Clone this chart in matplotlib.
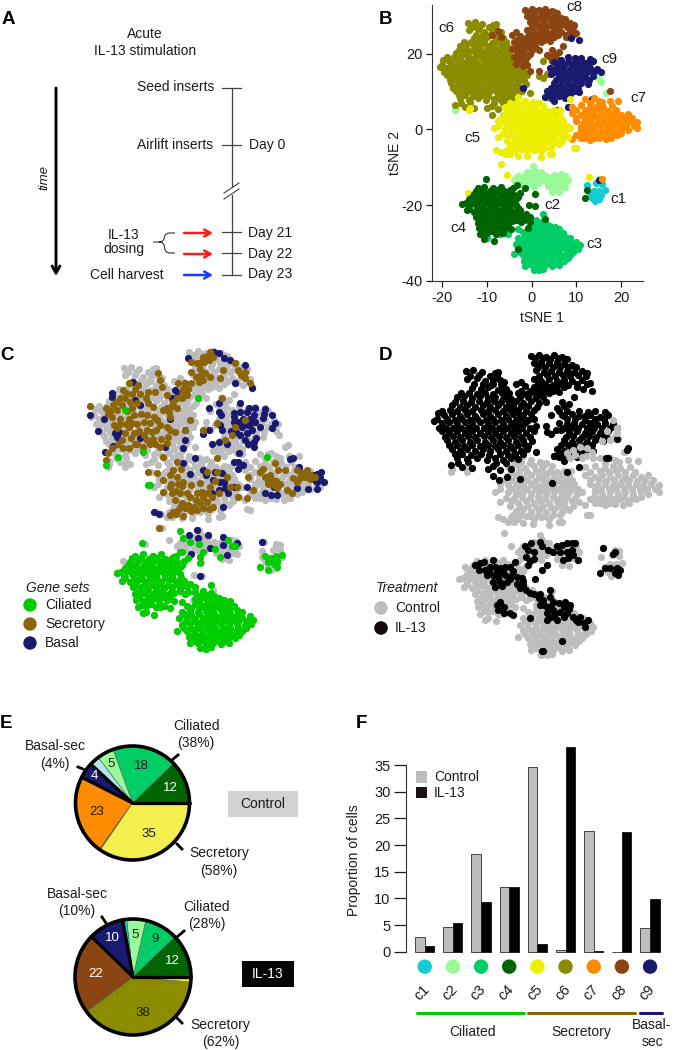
import matplotlib
matplotlib.use("Agg")
import matplotlib.pyplot as plt
from matplotlib.patches import Rectangle, Circle, PathPatch
from matplotlib.path import Path
import numpy as np

plt.rcParams['font.family'] = ['Liberation Sans', 'DejaVu Sans']
plt.rcParams['axes.unicode_minus'] = False
W, H = 674, 1050
INK = '#1c1c1c'

# tSNE coordinates
c1 = [(12.3,-14.6),(14.4,-14.2),(15.8,-14.4),(13,-16.9),(14,-16.3),(15.1,-16.2),(16.3,-15.9),(13.5,-18),(14.5,-17.9),(15.5,-17.4),(14.1,-19),(15,-18.5),(14.8,-17),(13.9,-17.4)]
c2 = [(0.2,-9.6),(-1,-11.2),(0.6,-10.8),(2,-11.3),(-3,-12.2),(-1.6,-12),(0,-12.3),(1.5,-11.9),(3.2,-12.4),(5,-12),(6.5,-11.9),(7.4,-12.3),
      (-4,-13.4),(-2.6,-13.7),(-1,-13.3),(0.5,-13.7),(2,-13.4),(3.5,-13.8),(5,-13.3),(6.5,-13.7),(8,-13.4),(-1.5,-15),(0.5,-15.2),(3.6,-15),(5,-15.2),(6.5,-14.9),(7.5,-15.3),(4.6,-16.4),(6,-16.6),
      (-17,5.6),(-17.2,5),(15,13.2),(15.6,12.4),(16.7,9.6),(15,-13),
      (-3.4,-12.8),(-2,-12.9),(-0.4,-12.7),(1,-12.8),(2.6,-12.9),(4.2,-12.7),(5.8,-12.8),(7,-12.9),(-2.2,-14.3),(-0.6,-14.4),(1.4,-14.2),(4.2,-14.3),(5.8,-14.4),(7,-14.2),(-0.2,-11.5),(1.2,-11.4)]
c3 = [(2.6,-22.4),(-0.6,-24),(1,-23.8),(2.6,-24.3),(-0.5,-25.6),(1.1,-25.3),(2.4,-25.8),(4,-25.4),(5.1,-25.8),(6.2,-26.2),
      (-2,-27.2),(-0.6,-26.8),(1,-27.3),(2.5,-26.9),(4,-27.2),(5.5,-26.9),(7,-27.4),(-3,-28.6),(-1.5,-28.2),(0,-28.7),(1.5,-28.4),(3,-28.8),(4.5,-28.3),(6,-28.7),(7.5,-28.3),(8.6,-28.7),
      (-3.6,-30.2),(-2,-29.8),(-0.5,-30.3),(1,-30),(2.5,-30.4),(4,-29.9),(5.5,-30.3),(7,-29.8),(8.6,-30.2),(10,-29.7),(10.7,-30.6),(-3,-31.6),(-1.5,-31.3),(0,-31.8),(1.5,-31.4),(3,-31.9),(4.5,-31.4),(6,-31.8),(7.5,-31.4),(9,-31.8),(10.3,-31.5),
      (-4,-33),(-2,-33.2),(-0.5,-32.9),(1,-33.4),(2.5,-33),(4,-33.4),(5.5,-33),(7,-33.4),(8.5,-33.1),(-1.7,-34.6),(0,-34.3),(1.5,-34.8),(3,-34.4),(4.5,-34.8),(6,-34.4),(7.2,-34.8),
      (-1.5,-36),(0,-35.8),(1.5,-36.2),(3,-35.8),(4.5,-36.1),(6,-35.9),(0.5,-37),(1.6,-37.2),(2.6,-36.9),(-3,-26.4),(-10,-28.6),(-7.2,-27.6),(-5.4,-27.7),
      (0.2,-25),(1.8,-24.8),(3.2,-25),(0.3,-26.2),(1.8,-26.3),(3.3,-26.1),(4.6,-26.3),(-1.2,-27.8),(0.2,-27.7),(1.8,-27.9),(3.2,-27.7),(4.8,-27.9),(6.2,-27.8),(-2.6,-29.2),(-1.2,-29.3),(0.2,-29.1),(1.8,-29.3),(3.2,-29.1),(4.8,-29.3),(6.2,-29.2),(7.8,-29.1),
      (-2.2,-30.8),(-0.8,-30.9),(0.8,-30.7),(2,-30.9),(3.4,-30.7),(4.8,-30.9),(6.4,-30.7),(7.8,-30.8),(9.4,-30.9),(-2.6,-32.4),(-1.2,-32.3),(0.4,-32.5),(1.8,-32.3),(3.4,-32.5),(4.8,-32.3),(6.2,-32.5),(7.8,-32.3),(9.2,-32.4),
      (-1,-34),(0.8,-33.9),(2.2,-34.1),(3.8,-33.9),(5.2,-34.1),(6.6,-33.9),(8,-34),(-0.8,-35.4),(0.8,-35.3),(2.2,-35.5),(3.8,-35.3),(5.2,-35.4)]
c4 = [(-12,-15.6),(-10.6,-15.2),(-8.6,-15.6),(-7,-15.2),(-4.1,-15.6),(-3.4,-14.8),(-13,-17),(-11.5,-16.9),(-10,-17.2),(-8.5,-16.8),(-7,-17.2),(-5.5,-16.9),(-4,-17.2),(-2.6,-16.8),
      (-14,-18.5),(-12.5,-18.2),(-11,-18.7),(-9.5,-18.4),(-8,-18.7),(-6.5,-18.3),(-5,-18.7),(-3.5,-18.3),(-15.6,-19.7),(-14.1,-20.2),(-12.6,-19.8),(-11,-20.2),(-9.5,-19.8),(-8,-20.2),(-6.5,-19.8),(-5,-20.2),(-3.5,-19.9),
      (-14.6,-21.4),(-13,-21.7),(-11.5,-21.3),(-10,-21.7),(-8.5,-21.3),(-7,-21.7),(-5.5,-21.3),(-4,-21.7),(-2.6,-21.4),(-12.5,-23),(-11,-22.8),(-9.5,-23.2),(-8,-22.9),(-6.5,-23.2),(-5,-22.8),(-3.5,-23.1),(-2,-22.8),(-0.5,-23),
      (-12,-24.6),(-10.5,-24.2),(-9,-24.6),(-7.5,-24.3),(-6,-24.7),(-4.5,-24.3),(-2.5,-24.5),(-11.9,-26),(-10.4,-26.2),(-9,-25.8),(-7.5,-26.2),(-6,-25.9),(-4.6,-26.2),(-11.5,-27.6),(-10,-27.3),(-8,-27.6),(-6.5,-27.3),(-10.6,-29),(-8.4,-29.4),
      (-12.6,-16.2),(-11,-16.1),(-9.4,-16.3),(-7.8,-16.1),(-6.2,-16.3),(-4.8,-16.1),(-13.4,-17.8),(-11.8,-17.9),(-10.4,-17.7),(-8.8,-17.9),(-7.2,-17.8),(-5.8,-17.9),(-4.4,-17.7),(-3,-17.9),(-14.8,-19.4),(-13.2,-19.3),(-11.8,-19.5),(-10.2,-19.3),(-8.8,-19.4),(-7.2,-19.3),(-5.8,-19.5),(-4.2,-19.3),
      (-14,-20.9),(-12.2,-20.8),(-10.8,-21),(-9.2,-20.8),(-7.8,-21),(-6.2,-20.8),(-4.8,-21),(-3.2,-20.8),(-12,-22.4),(-10.2,-22.3),(-8.8,-22.5),(-7.2,-22.3),(-5.8,-22.5),(-4.2,-22.3),(-2.8,-22.5),(-1.4,-22.3),(-11.4,-24),(-9.8,-23.9),(-8.2,-24.1),(-6.8,-23.9),(-5.2,-24.1),(-3.5,-23.9),(-1.8,-24),(-11.2,-25.4),(-9.6,-25.3),(-8.2,-25.5),(-6.8,-25.3),(-5.4,-25.4),(-10.8,-27),(-9,-26.9),(-7.2,-27)]
c4_strays = [(-10.2,-13),(-1.6,-15.6),(0.7,-17),(-0.7,-20),(0.8,-20.3),(3,-23.7),(-0.5,-24.5),(-0.9,-26),(-3,-31.5),(12.4,-16),(12,-18.2)]
c5 = [(-3,8.6),(-1.6,7.6),(-6,6),(-4,6.4),(-2.6,5.8),(-1,6.3),(0.6,5.8),(2.6,6.2),(-6,4),(-4.5,4.3),(-3,3.8),(-1.5,4.2),(0,3.8),(1.5,4.3),(3,3.8),(4.5,4.2),(6,3.9),
      (-7.5,2.1),(-6,1.8),(-4.5,2.2),(-3,1.8),(-1.5,2.2),(0,1.7),(1.5,2.2),(3,1.8),(4.5,2.2),(6,1.8),(7,2.2),(-8.5,0.4),(-6,0.2),(-4.5,-0.2),(-3,0.2),(-1.5,-0.2),(0,0.2),(1.5,-0.2),(3,0.2),(4.5,-0.2),(6,0.2),(7.5,-0.2),(8.5,0.3),
      (-7.5,-2),(-5.5,-1.8),(-4,-2.2),(-2.5,-1.8),(-1,-2.2),(0.5,-1.8),(2,-2.2),(3.5,-1.8),(5,-2.2),(6.5,-1.8),(8,-2),(-4.5,-4),(-3,-3.7),(-1.5,-4.2),(0,-3.8),(1.5,-4.2),(3,-3.7),(4.5,-4.2),(6,-3.9),
      (-8,-5.4),(-7,-5.9),(-5.5,-5.5),(-4,-5.8),(-2.5,-5.3),(-1,-5.8),(0.5,-5.4),(2,-5.8),(-6,-6.6),(-4.9,-6.6),(-3,-6.9),(-1.1,-7),(2,-7.2),(4,-6.6),(4.6,-6.5),(9.4,-4.9),(10,-5),
      (-6.8,-9.2),(-5.5,-12),(-14,5),(-13.8,5.6),(8.5,8),(12.7,-12.5),(-14.4,-16.8),(6.4,5.2),
      (-4.8,7),(-3.4,7.2),(-1.8,6.9),(0.2,7.1),(1.5,6.9),(-5.4,5),(-3.8,5.1),(-2.2,4.9),(-0.6,5.1),(0.9,4.9),(2.3,5.1),(3.6,4.9),(5,5.1),(-6.8,3),(-5.2,3.1),(-3.6,2.9),(-2.2,3.1),(-0.7,2.9),(0.8,3.1),(2.2,2.9),(3.7,3.1),(5.2,2.9),(6.6,3.1),
      (-7.6,1),(-5.2,1.1),(-3.8,0.9),(-2.2,1.1),(-0.7,0.9),(0.8,1.1),(2.2,0.9),(3.8,1.1),(5.2,0.9),(6.6,1.1),(7.8,1),(-6.4,-1),(-4.8,-1.1),(-3.2,-0.9),(-1.8,-1.1),(-0.2,-0.9),(1.2,-1.1),(2.8,-0.9),(4.2,-1.1),(5.6,-0.9),(7.2,-1),
      (-5.6,-3),(-3.6,-3.1),(-2,-2.9),(-0.6,-3.1),(0.8,-2.9),(2.4,-3.1),(3.8,-2.9),(5.2,-3.1),(6.8,-3),(-5,-5),(-3.4,-4.9),(-1.8,-5.1),(-0.2,-4.9),(1.2,-5.1),(2.8,-4.9),(4.2,-5)]
c6 = [(-14.2,28),(-12.8,28.2),(-11.2,27.8),(-8.6,27.6),(-8,27.9),(-14,26.2),(-12,26.4),(-10.6,25.8),(-9,26.1),(-6.8,25.6),(-13,24.2),(-11.4,23.9),(-10,24.3),(-8,23.8),(-6.4,24),(-6,22.3),
      (-16,22),(-14.6,22.4),(-13,21.8),(-11.5,22.3),(-10,21.9),(-8.5,22.2),(-7,21.7),(-5.4,21.6),(-17,20.2),(-15.5,19.8),(-14,20.3),(-12.5,19.8),(-11,20.2),(-9.5,19.8),(-8,20.2),(-6.5,19.8),(-5,20),
      (-19.8,18.4),(-18.6,17.9),(-17,18.3),(-15.5,17.8),(-14,18.2),(-12.5,17.8),(-11,18.2),(-9.5,17.8),(-8,18.2),(-6.5,17.8),(-5,18.2),(-3.6,17.7),(-20.5,16.5),(-19,16.1),(-17.5,16.4),(-16,15.9),(-14.5,16.3),(-13,15.9),(-11.5,16.3),(-10,15.9),(-8.5,16.3),(-7,15.9),(-5.5,16.2),(-4,15.8),(-2.6,16.1),
      (-19,14.3),(-17.5,13.9),(-16,14.2),(-14.5,13.8),(-13,14.2),(-11.5,13.8),(-10,14.2),(-8.5,13.8),(-7,14.2),(-5.5,13.8),(-4,14.2),(-2.5,13.8),(-1,14.3),(-18,12.2),(-16.5,11.8),(-15,12.2),(-13.5,11.8),(-12,12.2),(-10.5,11.8),(-9,12.2),(-7.5,11.8),(-6,12.2),(-4.5,11.8),(-3,12.2),(-1.4,12),
      (-17,10.2),(-15.5,9.8),(-14,10.2),(-12.5,9.8),(-11,10.2),(-9.5,9.8),(-8,10.2),(-6.5,9.8),(-5,10.2),(-3.5,9.8),(-2.2,10.2),(-16,8.2),(-14,7.8),(-12,8.2),(-10.2,7.7),(-8.5,8),(-7,7.7),(-5.5,8.1),(-4,7.8),(-17.1,6.4),(-15,6),(-13,5.7),(-10,5.6),(-9,6.2),(-7.6,5.4),(-5.5,5.6),(-9,3.9),(-6.2,3.7),
      (2.4,18),(1.6,14),(2.4,13.6),(3.4,14.6),(-0.5,9.5),(3,8.6),(4,8.4),(4.6,14.8),
      (-13.4,27),(-11.8,27.1),(-9.6,26.9),(-8.2,27),(-12.6,25),(-11,25.1),(-9.4,24.9),(-7.4,25),(-15.2,23),(-13.6,23.1),(-12,22.9),(-10.6,23.1),(-9,22.9),(-7.2,23.1),(-5.8,23),(-16.4,21),(-14.8,21.1),(-13.2,20.9),(-11.8,21.1),(-10.2,20.9),(-8.8,21.1),(-7.4,20.9),(-5.8,21),
      (-19,19),(-17.4,19.1),(-16,18.9),(-14.4,19.1),(-13,18.9),(-11.4,19.1),(-10,18.9),(-8.6,19.1),(-7,18.9),(-5.6,19.1),(-4.2,19),(-20,17),(-18,17.1),(-16.4,16.9),(-15,17.1),(-13.4,16.9),(-12,17.1),(-10.4,16.9),(-9,17.1),(-7.4,16.9),(-6,17.1),(-4.4,16.9),(-3,17),
      (-19.6,15),(-18.2,15.1),(-16.8,14.9),(-15.2,15.1),(-13.8,14.9),(-12.2,15.1),(-10.8,14.9),(-9.2,15.1),(-7.8,14.9),(-6.2,15.1),(-4.8,14.9),(-3.2,15.1),(-1.8,15),(-18.4,13),(-16.8,13.1),(-15.4,12.9),(-13.8,13.1),(-12.4,12.9),(-10.8,13.1),(-9.4,12.9),(-7.8,13.1),(-6.4,12.9),(-4.8,13.1),(-3.4,12.9),(-1.8,13),
      (-17.6,11),(-16,11.1),(-14.6,10.9),(-13,11.1),(-11.6,10.9),(-10,11.1),(-8.6,10.9),(-7,11.1),(-5.6,10.9),(-4,11.1),(-2.6,11),(-16.4,9),(-15,9.1),(-13.2,8.9),(-11.4,9.1),(-9.8,8.9),(-7.6,9.1),(-6,8.9),(-4.6,9.1),(-3,9),(-15.8,7),(-13.8,7.1),(-8.4,6.9),(-6.4,7)]
c7 = [(12,8),(14,8.2),(15,7.6),(17.6,7.6),(19.4,7.5),(9,6),(11,6.3),(13,5.8),(14.5,6.2),(16,5.8),(18,6.1),(9,4.2),(11,3.8),(12.5,4.2),(14,3.8),(15.5,4.2),(17,3.8),(18.5,4.2),(20,3.8),(21.5,4.1),
      (10,2.2),(11.5,1.8),(13,2.2),(14.5,1.8),(16,2.2),(17.5,1.8),(19,2.2),(20.5,1.8),(22,2.2),(23.6,2),(11,0.2),(12.5,-0.2),(14,0.2),(15.5,-0.2),(17,0.2),(18.5,-0.2),(20,0.2),(21.5,-0.2),(23.6,0.4),
      (10,-1.4),(11.5,-1.7),(13,-1.4),(14.5,-1.7),(16,-1.3),(17.5,-1.7),(19,-1.4),(9,-2.6),(13,-2.7),(15,-2.4),(16.6,-2.6),(3,4.5),(1,6.6),(15.8,-13.2),
      (13,7),(15.8,7.1),(10,5),(12,5.1),(13.8,4.9),(15.2,5.1),(17,4.9),(18.8,5),(10,3),(11.8,3.1),(13.2,2.9),(14.8,3.1),(16.4,2.9),(17.8,3.1),(19.2,2.9),(20.8,3.1),(22.4,3),
      (11,1),(12.2,1.1),(13.8,0.9),(15.2,1.1),(16.8,0.9),(18.2,1.1),(19.8,0.9),(21.2,1.1),(22.8,1),(10.8,-0.9),(12.2,-1),(13.8,-0.8),(15.2,-1),(16.8,-0.8),(18.2,-1),(20,-0.9),(11,-2.2),(12,-2.3),(14,-2.2),(17.8,-2.3)]
c8 = [(-1.6,31.6),(0,31.8),(1.5,31.4),(3,31.8),(4.5,31.3),(5.6,30.8),(-1,30),(0.5,30.2),(2,29.8),(3.5,30.1),(5,29.7),(6.6,29.4),(-0.5,28.2),(1,27.8),(2.5,28.1),(4,27.8),(5.5,28.1),(7,27.8),(8.5,28.1),(9.5,27.6),
      (-1,26.2),(0.5,25.8),(2,26.2),(3.5,25.8),(5,26.1),(6.6,25.7),(8.5,25.9),(10,25.4),(-2.6,24.6),(-1,24.3),(0.5,24.7),(2,24.3),(3.6,24.6),(5,24.3),(-4,23),(-2.5,22.7),(-1,23.1),(0.5,22.8),(2,23),(4,23.2),(-4.5,21.2),(-3,20.8),(-1.5,21.2),(0,20.8),(1.5,21),(4.5,21),(6,20.5),
      (-4,19.2),(-2.5,18.8),(-1,19.2),(4,19),(5.5,18.9),(-3.5,17.2),(-2,16.8),(-1,17),(-0.5,15.5),(1.5,15.4),(-9,25),(-7.6,26),(-7,24.4),(-4.5,25),(-3.5,25.6),(7,22),(7.6,24.4),(3.5,19.6),(9,17.8),(17.4,10),
      (-0.8,31),(0.8,31.1),(2.2,30.9),(3.8,31),(5,30.9),(-0.2,29),(1.2,29.1),(2.8,28.9),(4.2,29.1),(5.8,28.9),(7.4,29),(0,27),(1.6,27.1),(3.2,26.9),(4.8,27.1),(6.2,26.9),(7.8,27.1),(9.2,27),(-0.2,25),(1.2,25.1),(2.8,24.9),(4.2,25.1),(5.8,24.9),(7.6,25),(9.4,25.1),
      (-3.4,23.5),(-1.8,23.6),(-0.2,23.4),(1.2,23.6),(2.8,23.5),(-3.6,22),(-2,22.1),(-0.6,21.9),(0.8,22),(-3.4,20),(-2,20.1),(-0.4,19.9),(5,20),(-3,18),(-1.6,18.1),(4.6,18)]
c9 = [(8,19),(9.6,18.7),(11,18.9),(13,18.6),(5,17.8),(6.5,18.2),(8,17.7),(10,18),(12,17.6),(13.6,17.9),(4,16.2),(5.5,15.8),(7,16.2),(8.5,15.8),(10,16.2),(11.5,15.8),(13,16.2),(14.6,15.8),(15.4,15),
      (4.4,14.6),(6,14),(7.5,14.4),(9,13.9),(10.5,14.3),(12,13.9),(13.6,14.2),(5,12.2),(6.5,11.8),(8,12.2),(9.5,11.8),(11,12.2),(12.6,11.9),(3.5,10.2),(5,9.8),(6.5,10.2),(8,9.8),(9.6,10.1),(10.6,9.8),(3,8.6),(4.5,8.3),(6,8.7),(7.5,8.3),(5,7.4),
      (8.7,24),(10.5,23.5),(-2,10.8),(13.5,8),(5.5,5),(8,6),(15,-13.4),
      (5.6,17),(7.2,17.1),(9,16.9),(11,17.1),(12.8,17),(5,15),(6.4,15.1),(7.8,14.9),(9.4,15.1),(10.8,14.9),(12.4,15.1),(14,15),(5.4,13),(6.8,13.1),(8.4,12.9),(9.8,13.1),(11.2,12.9),(12.8,13),(4.4,11),(5.8,11.1),(7.2,10.9),(8.8,11.1),(10.4,11),(4,9.2),(5.4,9.3),(6.8,9.1),(8.6,9.2)]

# gene sets overlaid in panel C
c_secretory = [(-20.7,19.1),(-17.6,18.6),(-16.2,19.3),(-15.6,18.2),(-16.5,16.6),(-14.3,22.8),(-13.3,24.4),(-12.7,22),(-11.4,24),(-11.1,22),(-14,20.9),(-13,20.1),(-11.7,19.7),(-12.7,18.6),(-14.9,16.2),(-13.3,16.2),(-9.8,17),(-8.5,16.6),(-10.4,15.5),(-9.2,15.1),(-7.9,15.9),(-9.8,13.5),(-10.4,12.4),(-13.3,14.3),(-14,12.8),(-14.6,11.2),(-15.6,13.9),(-12.1,10.4),(-13.3,9.3),(-16.5,9.3),(-17.2,8.3),(-17.6,6.6),(-8.2,10.4),(-9.2,10.4),(-7.2,9.7),(-6.6,7.3),(-9.5,3.9),(-6,14.3),(-5.3,13.5),(-4.4,13.1),(-6,18.6),(-6.6,18.2),(-7.6,26.7),(-7.2,25.1),(-6.9,23.6),(-6,21.7),(-8.2,22.4),(-9.5,22.4),(-5.3,16.5),(-1.5,15.9),(-2.4,13.5),
    (-4.7,20.1),(-3.1,20.9),(-4,20.9),(-2.1,21.7),(-1.2,24.4),(-2.4,24.4),(-3.7,24.4),(-1.2,29.4),(-0.2,29),(1.1,30.5),(2.4,31.7),(2.1,29.8),(0.4,27.8),(-1.2,27.1),(1.4,26.7),(2.4,25.9),(1.1,25.1),(4.3,25.5),(4.9,27.5),(7.2,29),(7.8,27.5),(9.1,27.1),(9.1,25.5),(10.1,24.4),(4.6,20.9),(3.7,15.1),(1.1,13.5),(9.1,15.9),(7.2,14.3),(6.5,12.4),(5.3,11.2),(3.7,7),
    (-4,6.2),(-4.7,4.3),(-5.3,3.1),(-7.9,3.5),(-6.6,1.9),(-4,2.7),(-2.8,1.5),(-6.6,-0.8),(-5.3,0.4),(-3.4,-1.2),(-2.1,-1.2),(-1.2,0.8),(0.4,1.2),(2.4,0.4),(-0.2,-1.2),(1.1,-1.9),(1.7,-3.1),(-4.4,-2.7),(-3.1,-3.3),(-1.8,-3.9),(-0.8,-4.3),(0.4,-3.5),(-5.3,-6.2),(-4.7,-5.4),(-3.7,-5),(3,-4.3),(4,-1.2),(5.6,2.7),(3.7,3.9),(1.7,3.9),(6.2,0.4),(7.5,0.4),(7.8,-1.9),(9.4,-2.3),(9.7,2.7),(10.7,-0.4),(-7.4,-9.1),
    (12,3.9),(12.9,2.7),(13.9,3.1),(14.9,5.8),(15.5,4.3),(13.6,1.5),(14.6,0.8),(15.2,0),(17.1,-0.4),(18.1,-1.2),(16.8,4.3),(19,4.3),(20,3.5),(21,4.3),(21.6,3.1),(19.7,2.3),(19,1.5),(22.6,2.7),(-14.2,-18.9),
    (-15,21),(-15.8,20),(-14.6,19.4),(-13.6,18),(-12.2,17),(-11,17.2),(-11.6,15),(-12.6,15.2),(-13.8,15),(-15,15),(-16,14.8),(-11.2,13.4),(-12.2,12.8),(-12.9,11.6),(-11.6,10.4),(-10.6,9.6),(-9.8,11.2),(-8.8,13),(-8,13.6),(-7.2,14.8),(-8.6,11.4),(-7,11.4),(-6,10.6),(-5.8,12),(-12,23),(-10,21),(-9.6,19.8),(-8.6,18.8),(-13.8,22.2),(-16.8,18),(-17.2,17.2),(-15.4,10.2),(-14.4,9.4),
    (-5,19),(-5.6,17.8),(-4,18.6),(-2.8,23),(-1.8,23),(-3,21.8),(0.2,29),(1.2,29.2),(3,30.4),(1.8,30.8),(0.4,26),(0.2,24.6),(-0.4,25.8),(8.4,26.4),
    (-5.2,1),(-5,-1),(-4.2,-0.6),(-3,0.5),(-1.4,-2),(-0.4,-2.8),(0.9,-0.8),(2,-1),(2.8,-2),(-3.4,-4.4),(-2.4,-4.6),(-1.2,-5.2),(-0.2,-5),(1,-4.6),(2.2,-4.8),(-4.2,-6),(-2.8,-6.4),(-3.8,1),(-3.2,4.4),(3.4,1.6),
    (12.6,4.4),(13.6,1),(14.2,2),(15,1.6),(15.8,1),(19.8,3.4),(20.6,2.6),(18.4,2.4),(21.6,2.2)]
c_basal = [(-20.8,17),(-18,16),(-19.1,13.4),(-16.5,22.2),(-16.5,21.3),(-15.6,12),(-15.9,12.9),(-16.3,9.8),(-17.8,8.5),(-11.1,19.3),(-11.1,11.6),(-12.4,24.7),(-6.3,9.5),(-4.4,22.8),(-3.1,22.4),(-5,20.9),(-5.3,16.2),(-2.4,13.5),(-2.4,11.2),(-2.8,9.3),
    (-1.8,30.2),(4,31.3),(6.2,29.8),(9.1,28.6),(7.2,24.5),(10.5,23.2),(4,19.7),(2.1,18.6),(4,17.8),(4.4,17),(8.1,19.7),(9.8,18.6),(11,18.6),(12.9,18.3),(14.2,17),(14.9,15.2),(14.2,13.9),(6.9,17.4),(8.1,17.8),(6.9,15.5),(10.1,16.2),(10.8,17),(8.8,16.2),(8.5,14.3),(9.7,14.7),(10.4,13.5),(9.4,12.8),(8.1,12.4),(9.1,11.2),(10.8,10.8),(10.8,9.5),(12,14.3),(4.3,14.7),(4.6,13.5),(1.1,12.6),(2.1,13.5),(2.7,10.4),(4,10.8),(5.6,10.4),
    (-0.5,7),(8,8.1),(6.9,6.2),(7.8,6.2),(8.8,5.4),(7.8,4.4),(-2.8,5.8),(-1.5,3.3),(1.1,4.3),(3.3,3.9),(4.6,3.5),(4.3,1.5),(5.3,0),(4,-0.4),(2.7,-1.2),(6.9,0.4),(9.4,0.2),(4.9,-4.3),(-8.5,-5.4),(-7.4,-6),
    (17.8,6.7),(18.4,7),(12.9,-1.2),(14,-1.5),(15.2,-1.5),(14.6,0.4),(19,0),(21.3,-0.2),(22.9,-0.2),(22.3,3.1),(23.8,3.9),(23.5,2.7),(24.2,1.5),(22.9,1.5),(19.4,5),
    (-0.2,-9.7),(-1.6,-10.8),(0.1,-11.6),(2,-10.8),(2.4,-13.9),(4.9,-11.4),(4.9,-13.1),(7.6,-12.6),(5.6,-15.5),(-1.2,-15.2),(0.4,-20.3),(12.4,-12.5),
    (7,16.6),(7.8,15.4),(9,15),(10,15),(11,15.4),(12.6,16.4),(12.8,17.2),(9.4,17.8),(7.4,13),(6.4,13.4),(11.2,11.6),(9.6,10.2),(-3.8,21.6),(0.8,29.4),(5,30.2),(3.2,31.6),(22.6,2),(23,3.4),(-15.2,13),(-12,20.6),(1.6,3),(3,2),(5.8,-1),(5,1.4)]
c_ciliated_extra = [(12,-18.2),(13,-15.8),(14,-16.2),(15,-15.8),(16.2,-15.5),(13.6,-17),(14.6,-17.5),(15.3,-16.8),(13.6,-19),(15.2,-18.2),(-3.4,-9.9),(-2.8,-11.6),(-1.5,-12.5),(0.3,-12.9),(-3.1,-14.7),(-1.8,-16.2),(0.4,-15.9),(1.1,-14.7),(0.4,-17.4),(3.3,-14.1),(4.3,-15.9),(5.8,-12),(6.5,-13.5),(7.2,-13.5),(-10.8,-12.8),(-8.8,-15.9),(-5.6,-16.6),(-4.7,-15.9),(0.1,20.9),(-14,18.2),(-10.6,8.4),(-15.3,7.3),(-17.6,5.4),(13.3,7.3),(-9.2,0.8),(-9.6,0.7)]

# IL-13 cells in panel D that are not in c6, c8, c9
d_il13_extra = [(-2.7,-12),(-1.5,-11.5),(-2,-13),(-1,-13.5),(-2.4,-14.5),(-1.7,-15.5),(-1,-15),(-2,-16.5),(0.3,-11.1),(0.6,-12.2),(1.9,-13),(2.9,-13.4),(3.5,-12.2),(4.5,-11.9),(5.5,-11.5),(6.5,-11.5),(7.1,-11.5),(4.2,-13.4),(5.5,-13.4),(6.5,-13),(6.8,-14.2),(7.8,-15.3),(4.8,-15.3),(5.8,-14.9),(1.6,-16.5),(0.6,-17.5),(-0.7,-19.7),
    (-12.5,-16.5),(-11.5,-16),(-10.8,-15.7),(-8.9,-15.3),(-11.8,-17.6),(-10.5,-17.6),(-9.5,-16.8),(-8.6,-16.8),(-7.6,-17.2),(-6.6,-16.8),(-5.6,-16.8),(-4.6,-15.7),(-10.2,-18.7),(-8.9,-18.7),(-7.9,-19.1),(-6.6,-18.7),(-5.3,-18.7),(-4.3,-19.1),(-3.3,-19.5),(-8.9,-20.3),(-7.6,-20.3),(-6.3,-20.3),(-4.3,-20.7),(-3,-21),(-8.6,-21.4),(-3.7,-21.8),(-2.4,-22.2),(-1,-23),(0.3,-23),(2.2,-22.2),(0,-24.1),(0.9,-24.5),(2.2,-23.7),(0.3,-25.6),(1.6,-26),(2.9,-24.9),(3.9,-25.2),(5.2,-24.9),(6.1,-25.6),(1.6,-27.5),(2.9,-26.8),(4.2,-27.2),(5.5,-27.5),(6.8,-28.3),(8.1,-28.3),(9.7,-29.1),(8.8,-29.8),(7.8,-29.5),(9.1,-30.6),(3.5,-29.1),(1.6,-29.1),(-1.7,-28.7),
    (-9.7,-17.6),(-7,-18),(-5,-17.8),(-8.2,-18),(-5.6,-19.7),(-7.2,-21.2),(-1.8,-22.8),(-3.1,-20.1),(1.1,-25.6),(2.4,-25.8),(3.2,-27.6),(4.9,-26),(5.9,-26.6),(2.4,-28.4),(5,-28.4),(7.4,-29),
    (-7.6,-24.9),(-8.2,-25.6),(-6.9,-26),(-7.9,-26.8),(-6.9,-27.5),(-5.6,-27.5),(-5,-27.9),(0.6,-36.1),(0.9,-36.2),(4.5,-34),
    (12.7,-12.6),(14.6,-14),(12,-18.3),(13,-17.2),(14,-17.2),(15.4,-17.2),(15,-18.3),(15.6,-18.8),(15.9,-17.6),(-7.7,3),(-3.7,3.4),(2.7,2.3),(17.5,10.3),(13.1,8),(15.4,12.5),(13.3,12.6),(13,13.8)]
# control cells on the c9 edge, drawn over the black
d_control_over = [(14.6,16.8),(13.3,14.2),(15.3,14.9),(15.3,13.8),(14,12.2),(12.4,11.9),(6.8,9.9),(8.1,10.7),(9.4,10.3),(10.4,9.6),(5.5,9.2),(8.4,8.4),(6.1,8),(10.7,8),(7.2,8.7),(9.2,8.6)]

cluster_names = ['c1','c2','c3','c4','c5','c6','c7','c8','c9']
cluster_colors = ['#14ccd2','#98fb98','#00cd66','#006400','#eeee00','#8b8b00','#ff8c00','#8b4513','#191970']
control_pct = [2.8,4.7,18.4,12.2,34.6,0.3,22.6,0,4.5]
il13_pct = [1.1,5.3,9.3,12.2,1.4,38.4,0.15,22.4,9.9]
pie_order = [3,2,1,0,8,7,6,5,4]
ctrl_pie_labels = {3:('12','white',.72),2:('18',INK,.67),1:('5',INK,.78),8:('4','white',.82),6:('23',INK,.64),4:('35',INK,.62)}
il13_pie_labels = {3:('12','white',.74),2:('9',INK,.76),1:('5',INK,.73),8:('10','white',.76),7:('22','white',.64),5:('38',INK,.64)}


def px_axes(fig, left, top, right, bottom):
    return fig.add_axes([left/W, 1-bottom/H, (right-left)/W, (bottom-top)/H])


def xy(points):
    a = np.array(points)
    return a[:,0], a[:,1]


fig = plt.figure(figsize=(W/100, H/100), dpi=100)

# overlay in pixel coordinates for labels and the schematic
ov = fig.add_axes([0,0,1,1], zorder=10)
ov.set_xlim(0, W)
ov.set_ylim(H, 0)
ov.axis('off')
ov.patch.set_alpha(0)


def label(x, y, s, size=10, ha='center', **kw):
    kw.setdefault('color', INK)
    ov.text(x, y, s, fontsize=size, ha=ha, va='center', **kw)


for (x, y, s) in [(8,20,'A'),(385,20,'B'),(7,356,'C'),(385,356,'D'),(6,723,'E'),(361,723,'F')]:
    label(x, y, s, size=13.5, fontweight='bold', color='black')

# --- panel A
label(145, 34, 'Acute')
label(145, 51, 'IL-13 stimulation')
ov.annotate('', xy=(56,276), xytext=(56,88), arrowprops=dict(arrowstyle='->,head_width=.28,head_length=.5', lw=2.1, color='black', shrinkA=0, shrinkB=0))
label(44, 178, 'time', rotation=90, style='italic', size=9.5)
line_col = '#444444'
ov.plot([231.5,231.5],[88,187], color=line_col, lw=.9)
ov.plot([231.5,231.5],[195,275], color=line_col, lw=.9)
for y in [88,145,232,253,275]:
    ov.plot([222,241],[y,y], color=line_col, lw=.9)
ov.plot([224,239],[193,183], color=line_col, lw=.8)
ov.plot([224,239],[199,189], color=line_col, lw=.8)
label(214, 87, 'Seed inserts', ha='right')
label(213, 145, 'Airlift inserts', ha='right')
label(249, 145, 'Day 0', ha='left')
label(247.5, 233, 'Day 21', ha='left')
label(248, 254, 'Day 22', ha='left')
label(248, 274, 'Day 23', ha='left')
label(124, 235, 'IL-13')
label(124, 249, 'dosing')
label(127, 275, 'Cell harvest')
brace = Path([(153,242),(159,242),(164,242),(164.5,237),(165,233),(170,233),(175,233),
              (159,242),(164,242),(164.5,247),(165,253),(170,253),(175,253)],
             [Path.MOVETO,Path.LINETO,Path.CURVE3,Path.CURVE3,Path.CURVE3,Path.CURVE3,Path.LINETO,
              Path.MOVETO,Path.CURVE3,Path.CURVE3,Path.CURVE3,Path.CURVE3,Path.LINETO])
ov.add_patch(PathPatch(brace, fill=False, ec='#333333', lw=.8))
for y, col in [(233,'#ff1a1a'),(254,'#ff1a1a'),(275,'#1a3cff')]:
    ov.annotate('', xy=(213,y), xytext=(184,y), arrowprops=dict(arrowstyle='->,head_width=.25,head_length=.45', lw=1.8, color=col, shrinkA=0, shrinkB=0))

# --- panel B
ax = px_axes(fig, 432, 5, 643, 281)
ax.set_xlim(-22.35, 24.9)
ax.set_ylim(-40, 32.8)
for pts, col in [(c3,cluster_colors[2]),(c2,cluster_colors[1]),(c1,cluster_colors[0]),(c6,cluster_colors[5]),(c8,cluster_colors[7]),
                 (c9,cluster_colors[8]),(c7,cluster_colors[6]),(c5,cluster_colors[4]),(c4+c4_strays,cluster_colors[3])]:
    x, y = xy(pts)
    ax.scatter(x, y, s=27, color=col, linewidths=0, zorder=3)
ax.set_xticks([-20,-10,0,10,20])
ax.set_yticks([-40,-20,0,20])
ax.tick_params(labelsize=10.5, length=4, width=.9, colors=INK, pad=3)
ax.set_facecolor('none')
ax.spines['top'].set_visible(False)
ax.spines['right'].set_visible(False)
ax.spines['left'].set_color('#333333')
ax.spines['bottom'].set_color('#333333')
label(542, 318, 'tSNE 1')
label(395, 153, 'tSNE 2', rotation=90)
for (x, y, s) in [(446,28,'c6'),(574,7,'c8'),(609,59,'c9'),(638,98,'c7'),(472,138,'c5'),(552,205,'c2'),(618,199,'c1'),(458,228,'c4'),(594,244,'c3')]:
    label(x, y, s, size=11)

# --- panel C
ax = px_axes(fig, 72.9, 341.8, 332.9, 660.7)
ax.set_xlim(-24, 26)
ax.set_ylim(-40, 34)
ax.axis('off')
gray = '#bdbdbd'
x, y = xy(c1+c2+c3+c4+c4_strays+c5+c6+c7+c8+c9)
ax.scatter(x, y, s=27, color=gray, linewidths=0)
x, y = xy(c_basal)
ax.scatter(x, y, s=27, color='#191970', linewidths=0, zorder=2.5)
x, y = xy(c_secretory)
ax.scatter(x, y, s=27, color='#8b6508', linewidths=0, zorder=3)
x, y = xy(c3+c4+c_ciliated_extra)
ax.scatter(x, y, s=27, color='#00cd00', linewidths=0, zorder=4)
label(58, 588, 'Gene sets', style='italic', size=10)
for y, col, s in [(605,'#00cd00','Ciliated'),(624,'#8b6508','Secretory'),(643,'#191970','Basal')]:
    ov.add_patch(Circle((30,y), 6.7, color=col, lw=0))
    label(45, y, s, ha='left')

# --- panel D
ax = px_axes(fig, 416.3, 345.2, 671.3, 667.6)
ax.set_xlim(-24, 26)
ax.set_ylim(-40, 34)
ax.axis('off')
x, y = xy(c1+c2+c3+c4+c5+c7)
ax.scatter(x, y, s=27, color=gray, linewidths=0)
x, y = xy(c6+c8+c9+d_il13_extra)
ax.scatter(x, y, s=27, color='black', linewidths=0, zorder=3)
x, y = xy(d_control_over)
ax.scatter(x, y, s=27, color=gray, linewidths=0, zorder=4)
label(376, 588, 'Treatment', ha='left', style='italic', size=10)
for y, col, s in [(608,gray,'Control'),(628,'#120c0c','IL-13')]:
    ov.add_patch(Circle((381,y), 6.8, color=col, lw=0))
    label(395, y, s, ha='left')


# --- panel E
def draw_pie(cx, cy, r, pct, colors, labels):
    ax = px_axes(fig, cx-r*1.1, cy-r*1.1, cx+r*1.1, cy+r*1.1)
    vals = [pct[i] for i in pie_order]
    cols = [colors[i] for i in pie_order]
    ax.pie(vals, colors=cols, startangle=0, counterclock=True, radius=1,
           wedgeprops=dict(edgecolor='#555555', linewidth=.4))
    ax.set_xlim(-1.1, 1.1)
    ax.set_ylim(-1.1, 1.1)
    edges = np.cumsum(vals)/sum(vals)*360
    starts = np.concatenate([[0], edges[:-1]])
    # thick spokes between the cell type groups
    for a in [0, edges[3], edges[4]]:
        t = np.deg2rad(a)
        ax.plot([0,np.cos(t)],[0,np.sin(t)], color='black', lw=2.3, solid_capstyle='round')
    ax.add_patch(Circle((0,0), 1, fill=False, ec='black', lw=2.6))
    for k, i in enumerate(pie_order):
        if i in labels:
            s, col, rad = labels[i]
            t = np.deg2rad((starts[k]+edges[k])/2)
            ax.text(rad*np.cos(t), rad*np.sin(t), s, color=col, fontsize=9.5, ha='center', va='center')


colors_ctrl = list(cluster_colors)
colors_ctrl[0] = '#b0e6ea'
colors_ctrl[4] = '#f2ef4e'
draw_pie(132.5, 803, 57, control_pct, colors_ctrl, ctrl_pie_labels)
draw_pie(133, 977, 58, il13_pct, cluster_colors, il13_pie_labels)
for seg in [((172,760),(178,755)),((177,844),(182,849)),((78,767),(83,769)),((177,937),(184,931)),((177,1018),(182,1023)),((102,917),(106,923))]:
    ov.plot([seg[0][0],seg[1][0]],[seg[0][1],seg[1][1]], color='black', lw=2)
label(196, 726, 'Ciliated')
label(196, 743, '(38%)')
label(219, 853, 'Secretory')
label(219, 871, '(58%)')
label(55, 746, 'Basal-sec')
label(55, 764, '(4%)')
label(77, 894, 'Basal-sec')
label(77, 911, '(10%)')
label(207, 907, 'Ciliated')
label(207, 924, '(28%)')
label(220, 1025, 'Secretory')
label(221, 1042, '(62%)')
ov.add_patch(Rectangle((228,791), 70, 26, color='#d2d2d2', lw=0))
label(263, 804, 'Control')
ov.add_patch(Rectangle((242,961), 52, 26, color='#050505', lw=0))
label(268, 974, 'IL-13', color='white')

# --- panel F
ax = px_axes(fig, 405.7, 738.4, 674, 951.7)
ax.set_xlim(-0.675, 8.85)
ax.set_ylim(0, 40)
ax.set_facecolor('none')
pos = np.arange(9)
ax.bar(pos-0.17, control_pct, width=.34, color='#bdbdbd', edgecolor='#444444', linewidth=.7, clip_on=False)
ax.bar(pos+0.17, il13_pct, width=.34, color='black', edgecolor='#222222', linewidth=.7, clip_on=False)
for sp in ['top','right','bottom']:
    ax.spines[sp].set_visible(False)
ax.spines['left'].set_bounds(0, 35)
ax.spines['left'].set_color('#333333')
ax.set_xticks([])
ax.set_yticks([0,5,10,15,20,25,30,35])
ax.tick_params(axis='y', labelsize=10.5, length=9, width=.9, colors=INK, pad=2)
ax.scatter(pos, [-2.8]*9, s=108, color=cluster_colors, linewidths=0, clip_on=False)
for p, name in zip(pos, cluster_names):
    ax.text(p-0.1, -7.7, name, rotation=45, fontsize=10.5, ha='center', va='center', color=INK)
label(354, 860, 'Proportion of cells', rotation=90)
ov.plot([417,524],[1013,1013], color='#00cd00', lw=2.2, solid_capstyle='round')
ov.plot([528,635],[1013,1013], color='#8b6508', lw=2.2, solid_capstyle='round')
ov.plot([640,662],[1013,1013], color='#191970', lw=2.2, solid_capstyle='round')
label(472, 1032, 'Ciliated')
label(581, 1032, 'Secretory')
label(652, 1025, 'Basal-')
label(652, 1042, 'sec')
ov.add_patch(Rectangle((416,771), 11.3, 11.7, color='#bdbdbd', lw=0))
ov.add_patch(Rectangle((416,787), 11.3, 11.3, color='#1a1010', lw=0))
label(434, 777, 'Control', ha='left')
label(434, 793, 'IL-13', ha='left')

fig.savefig('out.png', dpi=100)
